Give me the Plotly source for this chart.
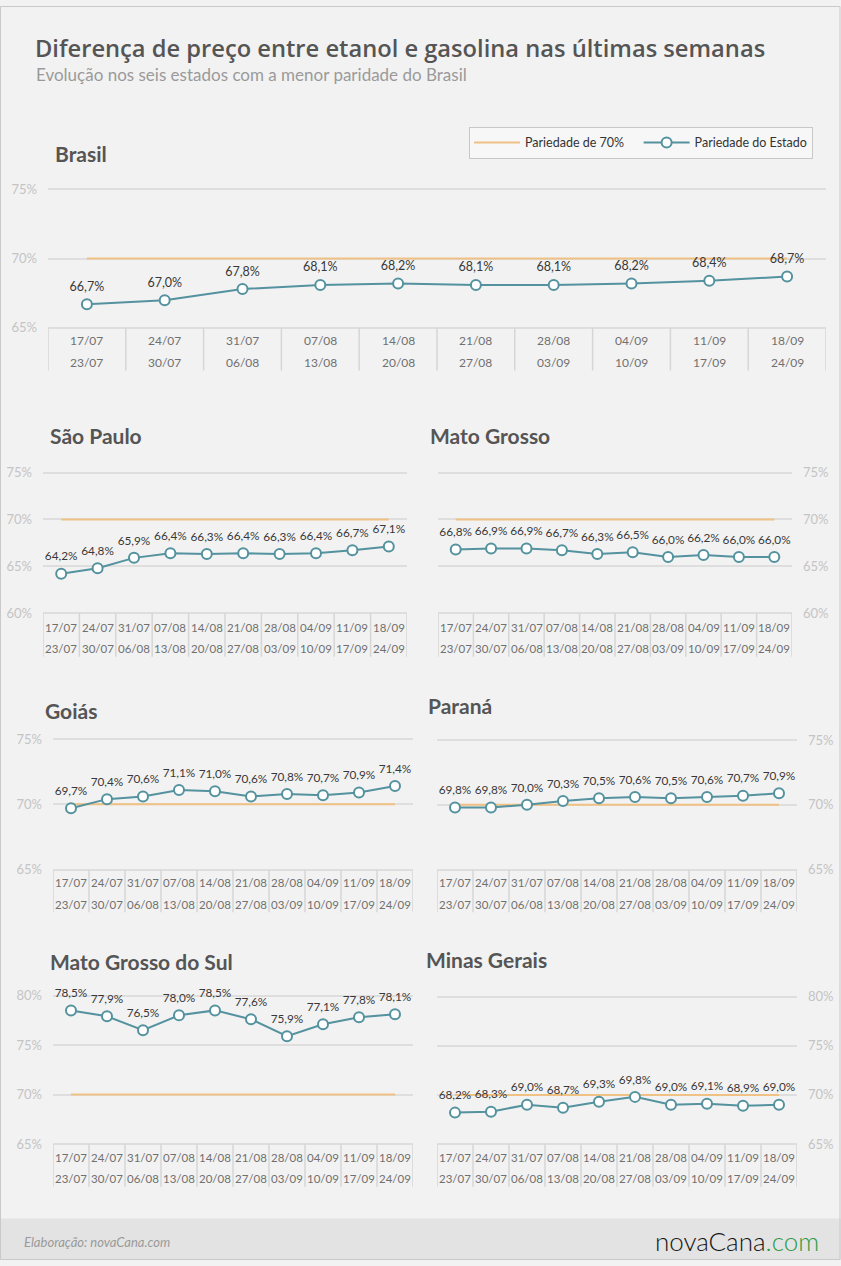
import plotly.graph_objects as go

# ---------------- data ----------------
WEEK_START = ["17/07", "24/07", "31/07", "07/08", "14/08", "21/08", "28/08", "04/09", "11/09", "18/09"]
WEEK_END = ["23/07", "30/07", "06/08", "13/08", "20/08", "27/08", "03/09", "10/09", "17/09", "24/09"]
PARIDADE = 70

BRASIL = [66.7, 67.0, 67.8, 68.1, 68.2, 68.1, 68.1, 68.2, 68.4, 68.7]
SAO_PAULO = [64.2, 64.8, 65.9, 66.4, 66.3, 66.4, 66.3, 66.4, 66.7, 67.1]
MATO_GROSSO = [66.8, 66.9, 66.9, 66.7, 66.3, 66.5, 66.0, 66.2, 66.0, 66.0]
GOIAS = [69.7, 70.4, 70.6, 71.1, 71.0, 70.6, 70.8, 70.7, 70.9, 71.4]
PARANA = [69.8, 69.8, 70.0, 70.3, 70.5, 70.6, 70.5, 70.6, 70.7, 70.9]
MS = [78.5, 77.9, 76.5, 78.0, 78.5, 77.6, 75.9, 77.1, 77.8, 78.1]
MG = [68.2, 68.3, 69.0, 68.7, 69.3, 69.8, 69.0, 69.1, 68.9, 69.0]

# ---------------- style / layout ----------------
W, H = 841, 1266
FONT = "Lato"
TEAL = "#53929e"
ORANGE = "#f0c184"
GRID = "#dedede"
DIV = "#d6d6d6"
TICKC = "#c4c4c4"
BG = "#f2f2f2"


def fx(x):
    return x / W


def fy(y):
    return 1 - y / H


panels = [
    dict(title="Brasil", vals=BRASIL, x0=48, x1=826, top=185, bot=325, vmin=65, vmax=75,
         r1=338, r2=360, tbot=368, side="left", tx=53, ty=149, tfs=12, lfs=12.5),
    dict(title="São Paulo", vals=SAO_PAULO, x0=43, x1=407, top=471, bot=613, vmin=60, vmax=75,
         r1=627, r2=649, tbot=657, side="left", tx=48, ty=434, tfs=11.5, lfs=11.8),
    dict(title="Mato Grosso", vals=MATO_GROSSO, x0=438, x1=792, top=471, bot=613, vmin=60, vmax=75,
         r1=627, r2=649, tbot=657, side="right", tx=428, ty=434, tfs=11.5, lfs=11.8),
    dict(title="Goiás", vals=GOIAS, x0=53, x1=413, top=740, bot=872, vmin=65, vmax=75,
         r1=885, r2=907, tbot=915, side="left", tx=43, ty=711, tfs=11.5, lfs=11.8),
    dict(title="Paraná", vals=PARANA, x0=437, x1=797, top=741, bot=872, vmin=65, vmax=75,
         r1=885, r2=907, tbot=915, side="right", tx=426, ty=706, tfs=11.5, lfs=11.8),
    dict(title="Mato Grosso do Sul", vals=MS, x0=53, x1=413, top=999, bot=1149, vmin=65, vmax=80,
         r1=1163, r2=1184, tbot=1192, side="left", tx=48, ty=965, tfs=11.5, lfs=11.8),
    dict(title="Minas Gerais", vals=MG, x0=437, x1=797, top=1000, bot=1149, vmin=65, vmax=80,
         r1=1163, r2=1184, tbot=1192, side="right", tx=424, ty=963, tfs=11.5, lfs=11.8),
]


def fmt(v):
    return f"{v:.1f}".replace(".", ",") + "%"


fig = go.Figure()
annotations = []
shapes = []

# background bands
shapes.append(dict(type="rect", xref="paper", yref="paper", x0=0, x1=1, y0=0, y1=fy(1224),
                   fillcolor="#e3e3e3", line=dict(width=0), layer="below"))
shapes.append(dict(type="rect", xref="paper", yref="paper", x0=fx(0.5), x1=fx(840), y0=fy(1265.5), y1=fy(0.5),
                   fillcolor="rgba(0,0,0,0)", line=dict(color="#c9c9c9", width=1), layer="above"))

for k, p in enumerate(panels):
    n = k + 1
    xa = "x" if n == 1 else f"x{n}"
    ya = "y" if n == 1 else f"y{n}"
    xl = "xaxis" if n == 1 else f"xaxis{n}"
    yl = "yaxis" if n == 1 else f"yaxis{n}"

    xs = list(range(len(p["vals"])))
    fig.add_trace(go.Scatter(
        x=xs, y=[PARIDADE] * len(xs), mode="lines",
        line=dict(color=ORANGE, width=2), name="Pariedade de 70%\u00a0\u00a0\u00a0",
        showlegend=(n == 1), legendgroup="p70", xaxis=xa, yaxis=ya, hoverinfo="skip"))
    fig.add_trace(go.Scatter(
        x=xs, y=p["vals"], mode="lines+markers",
        marker=dict(size=10, color="white", line=dict(color=TEAL, width=2)),
        line=dict(color=TEAL, width=2), cliponaxis=False,
        name="Pariedade do Estado", showlegend=(n == 1), legendgroup="pe",
        xaxis=xa, yaxis=ya))
    # value labels (transparent larger marker pushes the label a little higher)
    fig.add_trace(go.Scatter(
        x=xs, y=p["vals"], mode="markers+text",
        text=[fmt(v) for v in p["vals"]], textposition="top center",
        textfont=dict(family=FONT, size=p["lfs"], color="#383838"),
        marker=dict(size=15, color="rgba(0,0,0,0)"), cliponaxis=False,
        showlegend=False, xaxis=xa, yaxis=ya, hoverinfo="skip"))

    pad = 2
    ppu = (p["bot"] - p["top"]) / (p["vmax"] - p["vmin"])
    fig.update_layout({
        xl: dict(domain=[fx(p["x0"]), fx(p["x1"])], range=[-0.5, 9.5], showgrid=False,
                 zeroline=False, showticklabels=False, showline=False, anchor=ya, fixedrange=True),
        yl: dict(domain=[fy(p["bot"] + pad), fy(p["top"] - pad)],
                 range=[p["vmin"] - pad / ppu, p["vmax"] + pad / ppu],
                 tickvals=list(range(p["vmin"], p["vmax"] + 1, 5)),
                 ticktext=[f"{t}%" for t in range(p["vmin"], p["vmax"] + 1, 5)],
                 tickfont=dict(family=FONT, size=13, color=TICKC),
                 showgrid=True, gridcolor=GRID, gridwidth=1.5, zeroline=False, showline=False,
                 ticks="", side=p["side"], anchor=xa, ticklabelstandoff=10, fixedrange=True),
    })

    # panel title
    annotations.append(dict(text=f"<b>{p['title']}</b>", xref="paper", yref="paper",
                            x=fx(p["tx"]), y=fy(p["ty"]), xanchor="left", yanchor="middle",
                            showarrow=False, font=dict(family=FONT, size=21, color="#555555")))
    # table text
    for i in xs:
        annotations.append(dict(text=WEEK_START[i], xref=xa, yref="paper", x=i, y=fy(p["r1"]),
                                xanchor="center", yanchor="middle", showarrow=False,
                                font=dict(family=FONT, size=p["tfs"], color="#707070")))
        annotations.append(dict(text=WEEK_END[i], xref=xa, yref="paper", x=i, y=fy(p["r2"]),
                                xanchor="center", yanchor="middle", showarrow=False,
                                font=dict(family=FONT, size=p["tfs"], color="#707070")))
    for i in range(len(xs) + 1):
        shapes.append(dict(type="line", xref=xa, yref="paper", x0=i - 0.5, x1=i - 0.5,
                           y0=fy(p["bot"]), y1=fy(p["tbot"]), line=dict(color=DIV, width=1.5)))

# header
annotations.append(dict(text="Diferença de preço entre etanol e gasolina nas últimas semanas",
                        xref="paper", yref="paper", x=fx(33), y=fy(42), xanchor="left", yanchor="middle",
                        showarrow=False, font=dict(family="Open Sans", size=23.7, color="#555555", weight=600)))
annotations.append(dict(text="Evolução nos seis estados com a menor paridade do Brasil",
                        xref="paper", yref="paper", x=fx(34), y=fy(69), xanchor="left", yanchor="middle",
                        showarrow=False, font=dict(family=FONT, size=17, color="#9a9a9a")))
# footer
annotations.append(dict(text="<i>Elaboração: novaCana.com</i>", xref="paper", yref="paper",
                        x=fx(22), y=fy(1248), xanchor="left", yanchor="middle", showarrow=False,
                        font=dict(family=FONT, size=13, color="#9a9a9a")))
annotations.append(dict(text="novaCana<span style='color:#2e9a44'>.com</span>", xref="paper", yref="paper",
                        x=fx(821), y=fy(1247), xanchor="right", yanchor="middle", showarrow=False,
                        font=dict(family=FONT, size=26, color="#151515", weight=300)))

fig.update_layout(
    width=W, height=H, margin=dict(l=0, r=0, t=0, b=0),
    paper_bgcolor=BG, plot_bgcolor="rgba(0,0,0,0)",
    annotations=annotations, shapes=shapes,
    showlegend=True,
    legend=dict(orientation="h", x=fx(813), y=fy(122), xanchor="right", yanchor="top",
                bgcolor="#f7f7f7", bordercolor="#c8c8c8", borderwidth=1,
                font=dict(family=FONT, size=12.5, color="#333333"),
                itemwidth=46, tracegroupgap=0),
    hovermode=False,
)

fig.write_html("out.html")
